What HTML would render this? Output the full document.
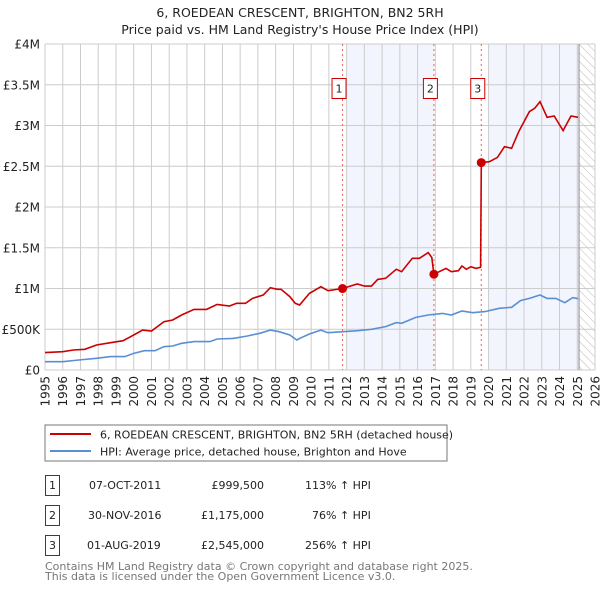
<!DOCTYPE html>
<html><head><meta charset="utf-8"><style>
body{margin:0;background:#fff;font-family:"DejaVu Sans","Liberation Sans",sans-serif;}
svg{display:block}
</style></head><body>
<svg id="c" width="600" height="590" xmlns="http://www.w3.org/2000/svg" font-family="DejaVu Sans, Liberation Sans, sans-serif">
<text x="300" y="17" text-anchor="middle" font-size="12.5" fill="#222">6, ROEDEAN CRESCENT, BRIGHTON, BN2 5RH</text>
<text x="300" y="34" text-anchor="middle" font-size="12.5" fill="#222">Price paid vs. HM Land Registry's House Price Index (HPI)</text>
<g id="plot"></g>
<rect x="45" y="425" width="402" height="36" fill="#fff" stroke="#777"/>
<line x1="50" y1="434" x2="91" y2="434" stroke="#cc0000" stroke-width="2"/>
<text x="100" y="438.5" font-size="11" fill="#222">6, ROEDEAN CRESCENT, BRIGHTON, BN2 5RH (detached house)</text>
<line x1="50" y1="451" x2="91" y2="451" stroke="#5b8fd4" stroke-width="2"/>
<text x="100" y="455.5" font-size="11" fill="#222">HPI: Average price, detached house, Brighton and Hove</text>
<g font-size="11" fill="#222">
<rect x="45.5" y="475.5" width="14" height="20" fill="none" stroke="#cc0000"/><text x="52.5" y="489" text-anchor="middle">1</text>
<text x="89" y="489">07-OCT-2011</text><text x="264" y="489" text-anchor="end">£999,500</text><text x="305" y="489">113% ↑ HPI</text>
<rect x="45.5" y="505.5" width="14" height="20" fill="none" stroke="#cc0000"/><text x="52.5" y="519" text-anchor="middle">2</text>
<text x="88" y="519">30-NOV-2016</text><text x="264" y="519" text-anchor="end">£1,175,000</text><text x="312" y="519">76% ↑ HPI</text>
<rect x="45.5" y="535.5" width="14" height="20" fill="none" stroke="#cc0000"/><text x="52.5" y="549" text-anchor="middle">3</text>
<text x="87" y="549">01-AUG-2019</text><text x="264" y="549" text-anchor="end">£2,545,000</text><text x="305" y="549">256% ↑ HPI</text>
</g>
<text x="45" y="570" font-size="11" fill="#777">Contains HM Land Registry data © Crown copyright and database right 2025.</text>
<text x="45" y="580" font-size="11" fill="#777">This data is licensed under the Open Government Licence v3.0.</text>
</svg>
<script>
const yTicks=[0,500000,1000000,1500000,2000000,2500000,3000000,3500000,4000000];
const yTickLabels=["£0","£500K","£1M","£1.5M","£2M","£2.5M","£3M","£3.5M","£4M"];
const xYears=[1995,1996,1997,1998,1999,2000,2001,2002,2003,2004,2005,2006,2007,2008,2009,2010,2011,2012,2013,2014,2015,2016,2017,2018,2019,2020,2021,2022,2023,2024,2025,2026];
const priceT=[1995.0,1996.0,1996.6,1997.25,1997.9,1998.7,1999.4,2000.0,2000.5,2001.0,2001.7,2002.2,2002.7,2003.4,2004.1,2004.7,2005.4,2005.8,2006.3,2006.7,2007.3,2007.7,2008.1,2008.3,2008.8,2009.1,2009.35,2009.9,2010.55,2010.95,2011.77,2012.6,2013.0,2013.4,2013.75,2014.2,2014.8,2015.1,2015.7,2016.1,2016.6,2016.8,2016.92,2017.6,2017.9,2018.3,2018.5,2018.75,2019.0,2019.3,2019.55,2019.59,2020.05,2020.5,2020.9,2021.3,2021.7,2022.0,2022.3,2022.6,2022.9,2023.3,2023.7,2024.2,2024.65,2025.05];
const priceV=[213000,225000,245000,254000,307000,335000,360000,430000,490000,478000,593000,613000,675000,744000,744000,805000,785000,818000,818000,880000,920000,1010000,990000,990000,900000,818000,798000,940000,1022000,973000,999500,1055000,1030000,1030000,1112000,1125000,1235000,1206000,1370000,1370000,1440000,1380000,1175000,1247000,1206000,1219000,1276000,1235000,1268000,1247000,1260000,2545000,2556000,2609000,2740000,2720000,2924000,3047000,3170000,3211000,3293000,3100000,3117000,2937000,3117000,3100000];
const hpiT=[1995.0,1996.0,1996.9,1997.9,1998.7,1999.5,2000.0,2000.6,2001.2,2001.7,2002.2,2002.7,2003.4,2004.3,2004.7,2005.6,2006.4,2007.1,2007.7,2008.2,2008.8,2009.2,2009.35,2009.9,2010.55,2010.95,2011.8,2012.6,2013.4,2014.2,2014.8,2015.1,2015.9,2016.6,2017.4,2017.9,2018.5,2019.1,2019.8,2020.6,2021.3,2021.8,2022.3,2022.9,2023.3,2023.8,2024.3,2024.75,2025.05];
const hpiV=[102000,102000,123000,143000,164000,164000,204000,237000,237000,286000,294000,327000,348000,348000,380000,388000,417000,450000,490000,470000,430000,368000,388000,442000,490000,458000,470000,482000,499000,532000,581000,573000,646000,675000,695000,675000,724000,703000,716000,757000,769000,851000,879000,920000,879000,879000,826000,888000,875000];
const saleT=[2011.77,2016.92,2019.59];
const saleV=[999500,1175000,2545000];
const saleLabels=["1","2","3"];
const X0=45,X1=595,Y0=370,Y1=44;
const xs=t=>X0+(t-1995)/(2026-1995)*(X1-X0);
const ys=v=>Y0-v/4000000*(Y0-Y1);
const NS="http://www.w3.org/2000/svg";
const g=document.getElementById('plot');
function mk(tag,attrs){const e=document.createElementNS(NS,tag);for(const k in attrs)e.setAttribute(k,attrs[k]);g.appendChild(e);return e;}
// shading
let e=mk('rect',{x:xs(2012),y:Y1,width:xs(2016.92)-xs(2012),height:Y0-Y1,fill:'#f2f5fd'});

e=mk('rect',{x:xs(2020),y:Y1,width:xs(2025.1)-xs(2020),height:Y0-Y1,fill:'#f2f5fd'});

// hatch
const defs=document.createElementNS(NS,'defs');defs.innerHTML='<pattern id="h" width="6" height="6" patternUnits="userSpaceOnUse" patternTransform="rotate(-45)"><line x1="0" y1="0" x2="0" y2="6" stroke="#bbb" stroke-width="1"/></pattern>';g.appendChild(defs);
e=mk('rect',{x:xs(2025.1),y:Y1,width:X1-xs(2025.1),height:Y0-Y1,fill:'url(#h)'});

// grid & ticks
yTicks.forEach((v,i)=>{
 let l=mk('line',{x1:X0,x2:X1,y1:ys(v),y2:ys(v),stroke:'#ccc'});
 
 let t=mk('text',{x:X0-5,y:ys(v)+4.5,'text-anchor':'end','font-size':12,fill:'#222'});t.textContent=yTickLabels[i];
 
});
xYears.forEach(y=>{
 let l=mk('line',{x1:xs(y),x2:xs(y),y1:Y1,y2:Y0,stroke:'#ccc'});
 
 let t=mk('text',{x:0,y:0,'text-anchor':'end','font-size':12,fill:'#222',transform:`translate(${xs(y)+4.5},${Y0+6}) rotate(-90)`});t.textContent=y;
 
});
e=mk('line',{x1:xs(2025.1),x2:xs(2025.1),y1:Y1,y2:Y0,stroke:'#888'});

// sale lines
saleT.forEach((t,i)=>{
 let l=mk('line',{x1:xs(t),x2:xs(t),y1:Y1,y2:Y0,stroke:'#f06060','stroke-dasharray':'2,3'});
 
});
// series
const path=(T,V)=>T.map((t,i)=>(i?'L':'M')+xs(t).toFixed(1)+','+ys(V[i]).toFixed(1)).join('');
e=mk('path',{d:path(hpiT,hpiV),fill:'none',stroke:'#5b8fd4','stroke-width':1.6});

e=mk('path',{d:path(priceT,priceV),fill:'none',stroke:'#cc0000','stroke-width':1.6});

saleT.forEach((t,i)=>{
 let c=mk('circle',{cx:xs(t),cy:ys(saleV[i]),r:4.5,fill:'#cc0000'});
 
 let r=mk('rect',{x:xs(t)-17.5+0.5*0,y:78.5,width:14,height:20,fill:'#fff',stroke:'#cc0000'});
 r.setAttribute('x',xs(t)-10.5);
 
 let tx=mk('text',{x:xs(t)-3.5,y:92.5,'text-anchor':'middle','font-size':11,fill:'#222'});tx.textContent=saleLabels[i];
 
});
</script>
</body></html>
